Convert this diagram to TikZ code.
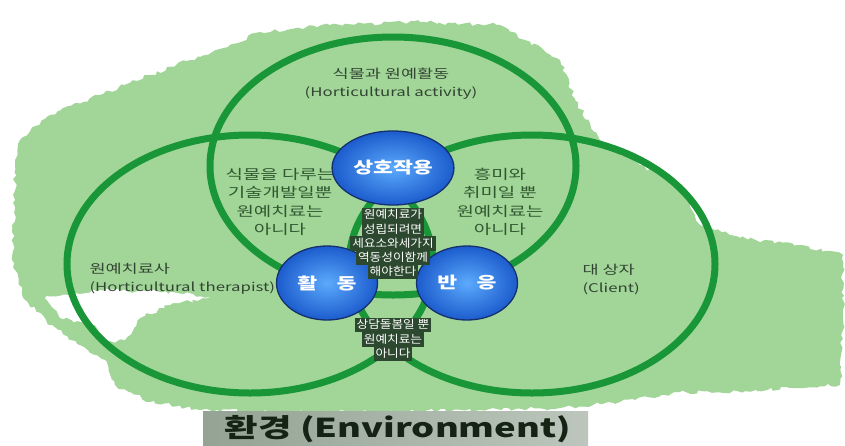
\documentclass[tikz,border=0pt]{standalone}
\usepackage{fontspec}
\usepackage{graphicx}
\setmainfont{Noto Sans CJK KR}
\usetikzlibrary{shapes.geometric,decorations.pathmorphing}
\definecolor{bgg}{RGB}{162,214,152}
\definecolor{ringg}{RGB}{24,150,56}
\definecolor{txtg}{RGB}{48,88,48}
\definecolor{labg}{RGB}{50,68,50}
\definecolor{dkbg}{RGB}{44,72,46}
\definecolor{navy}{RGB}{22,48,110}
\definecolor{bin}{RGB}{92,170,252}
\definecolor{bout}{RGB}{28,92,205}
\definecolor{envl}{RGB}{148,163,148}
\definecolor{envr}{RGB}{188,198,188}
\newcommand\sx[2][1.4]{\scalebox{#1}[1]{#2}}
\begin{document}
\begin{tikzpicture}[x=1pt,y=-1pt,
  ring/.style={draw=ringg, line width=7pt},
  bubble/.style={ellipse, minimum width=101pt, minimum height=74pt, draw=navy, line width=1.3pt,
    inner color=bin, outer color=bout, text=white, font=\fontsize{16}{18}\selectfont\bfseries},
  lens/.style={text=txtg, align=center, font=\fontsize{13.5}{18.3}\selectfont},
  outer/.style={text=labg, align=left, font=\fontsize{12.5}{18}\selectfont},
  dk/.style={fill=dkbg, text=white, inner xsep=2pt, inner ysep=1.3pt, text height=9.6pt, text depth=2.2pt,
    font=\fontsize{11.3}{12}\selectfont},
  rough/.style={decorate, decoration={random steps, segment length=4pt, amplitude=2pt}}
]
\useasboundingbox (0,0) rectangle (845,445);
\fill[white] (0,0) rectangle (845,445);
\pgfmathsetseed{7}
% brush background
\fill[bgg, rough] (20,140) -- (50,115) -- (100,95) -- (150,75) -- (190,60) -- (230,45) -- (260,32)
  -- (330,25) -- (420,22) -- (500,25) -- (525,40) -- (560,60) -- (575,100) -- (600,140)
  -- (640,165) -- (680,185) -- (700,225) -- (740,238) -- (800,245) -- (843,255) -- (843,320)
  -- (840,385) -- (790,388) -- (740,392) -- (680,392) -- (620,402) -- (560,408) -- (480,410)
  -- (380,412) -- (280,412) -- (200,410) -- (150,402) -- (115,385) -- (105,360) -- (80,345)
  -- (50,325) -- (25,300) -- (12,260) -- (15,200) -- (15,165) -- cycle;
\fill[white, rough] (45,298) -- (100,290) -- (170,292) -- (210,297) -- (170,305) -- (140,318)
  -- (125,340) -- (105,342) -- (95,325) -- (60,318) -- cycle;
% rings
\draw[ring] (393,166) ellipse [x radius=183, y radius=129];
\draw[ring] (250,264) ellipse [x radius=183, y radius=129];
\draw[ring] (532,264) ellipse [x radius=183, y radius=129];
% labels
\node[outer, align=center] (act) at (391,84) {\sx{식물과 원예활동}\\\sx{\fontsize{12}{18}\selectfont(Horticultural activity)}};
\node[outer, anchor=west] (ther) at (86,279) {\sx{원예치료사}\\\sx{\fontsize{12}{18}\selectfont(Horticultural therapist)}};
\node[outer, anchor=west] (cli) at (579,279) {\sx{대 상자}\\\sx{\fontsize{12}{18}\selectfont(Client)}};
\node[lens] (lensl) at (280,202) {\sx{식물을 다루는}\\\sx{기술개발일뿐}\\\sx{원예치료는}\\\sx{아니다}};
\node[lens] (lensr) at (500,202) {\sx{흥미와}\\\sx{취미일 뿐}\\\sx{원예치료는}\\\sx{아니다}};
% bubbles
\node[bubble] (inter) at (393,168) {\sx[1.35]{상호작용}};
\node[bubble] (hd) at (327,283) {\sx[1.35]{활\hspace{0.9em}동}};
\node[bubble] (bu) at (467,283) {\sx[1.35]{반\hspace{0.9em}응}};
% centre texts
\node[dk] (c1) at (393,215) {\sx[1.12]{원예치료가}};
\node[dk] (c2) at (393,229.3) {\sx[1.12]{성립되려면}};
\node[dk] (c3) at (393,243.6) {\sx[1.12]{세요소와세가지}};
\node[dk] (c4) at (393,257.9) {\sx[1.12]{역동성이함께}};
\node[dk] (c5) at (393,272.2) {\sx[1.12]{해야한다}};
\node[dk] (d1) at (393,325) {\sx[1.12]{상담돌봄일 뿐}};
\node[dk] (d2) at (393,339.3) {\sx[1.12]{원예치료는}};
\node[dk] (d3) at (393,353.6) {\sx[1.12]{아니다}};
% environment
\shade[left color=envl, right color=envr] (203,411) rectangle (588,445);
\node[text={rgb,255:red,20;green,35;blue,20}, font=\fontsize{26}{28}\selectfont\bfseries] (env) at (398,429) {\sx{환경 (Environment)}};
\end{tikzpicture}
\end{document}
